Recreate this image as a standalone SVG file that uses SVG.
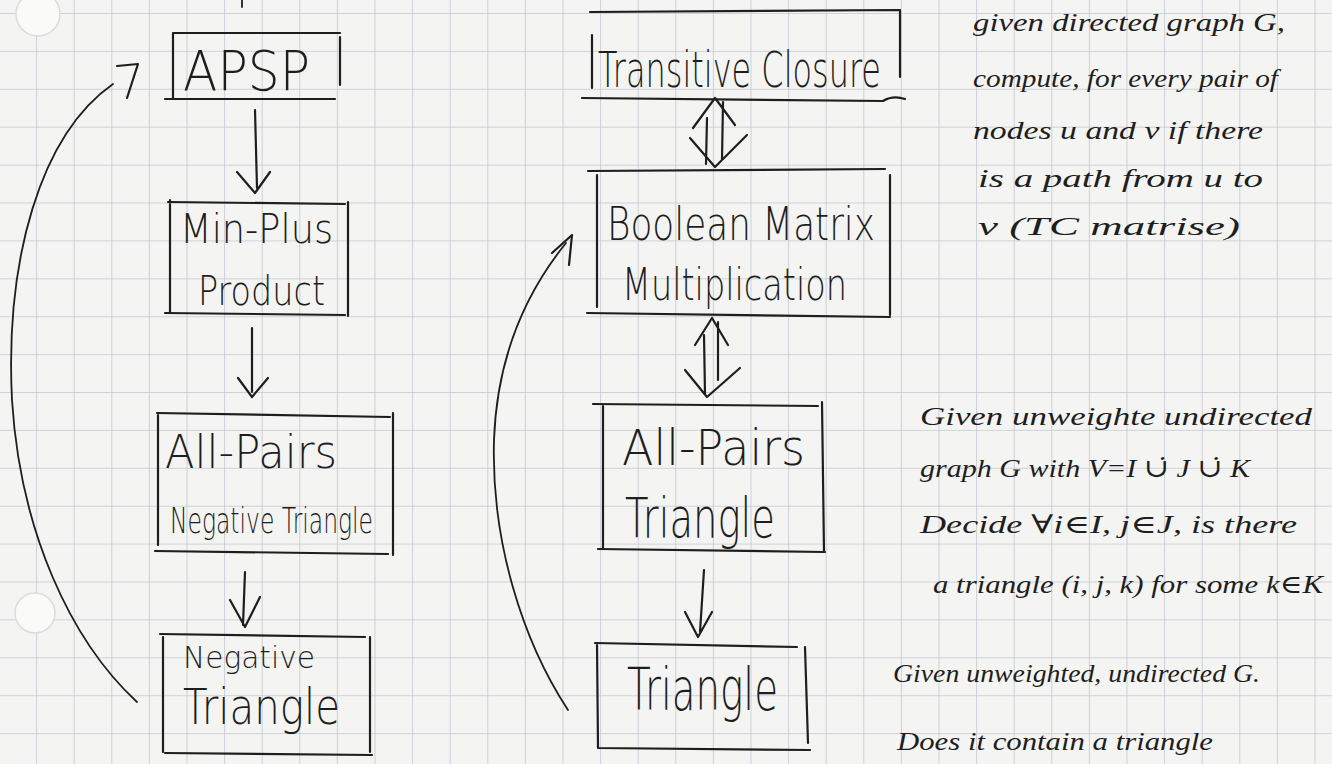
<svg xmlns="http://www.w3.org/2000/svg" width="1332" height="764" viewBox="0 0 1332 764">
<defs>
<pattern id="grid" x="-1.5" y="13" width="37.6" height="37.9" patternUnits="userSpaceOnUse">
<path d="M0,0 L37.6,0 M0,0 L0,37.9" fill="none" stroke="#c3c7d1" stroke-width="1.6"/>
</pattern>
<style>
.ink{fill:none;stroke:#1e1e1e;stroke-width:2.2;stroke-linecap:round;stroke-linejoin:round}
.thin{fill:none;stroke:#1e1e1e;stroke-width:1.8;stroke-linecap:round;stroke-linejoin:round}
.lbl{font-family:"DejaVu Sans","Liberation Sans",sans-serif;fill:#1e1e1e;font-weight:200}
.note{font-family:"Liberation Serif","DejaVu Serif",serif;font-style:italic;fill:#1e1e1e;font-size:26px}
</style>
</defs>
<rect width="1332" height="764" fill="#f4f4f2"/>
<rect width="1332" height="764" fill="url(#grid)"/>
<circle cx="38" cy="14" r="22" fill="#fafaf9" stroke="#dcdcdc" stroke-width="1.5"/>
<circle cx="35" cy="613" r="20" fill="#fafaf9" stroke="#dcdcdc" stroke-width="1.5"/>
<path class="thin" d="M242,0 L242,7"/>

<g id="node-apsp">
<path class="ink" d="M173,33 L340,33 M173,33 L173,98 M340,37 L340,85 M165,99 L335,99"/>
<text class="lbl" x="183" y="90" font-size="55" textLength="127" lengthAdjust="spacingAndGlyphs">APSP</text>
</g>
<g id="node-minplus">
<path class="ink" d="M168,202 L345,204 M170,200 L170,312 M348,202 L348,316 M165,313 L345,315"/>
<text class="lbl" x="180" y="243" font-size="40" textLength="153" lengthAdjust="spacingAndGlyphs">Min-Plus</text>
<text class="lbl" x="198" y="305" font-size="40" textLength="127" lengthAdjust="spacingAndGlyphs">Product</text>
</g>
<g id="node-apnt">
<path class="ink" d="M157,413 L390,417 M158,415 L158,545 M393,413 L393,555 M155,551 L388,554"/>
<text class="lbl" x="165" y="468" font-size="46" textLength="172" lengthAdjust="spacingAndGlyphs">All-Pairs</text>
<text class="lbl" x="170" y="533" font-size="35" textLength="203" lengthAdjust="spacingAndGlyphs">Negative Triangle</text>
</g>
<g id="node-nt">
<path class="ink" d="M160,634 L365,637 M163,637 L163,752 M370,637 L370,752 M165,753 L372,755"/>
<text class="lbl" x="183" y="668" font-size="30" textLength="132" lengthAdjust="spacingAndGlyphs">Negative</text>
<text class="lbl" x="183" y="724" font-size="50" textLength="157" lengthAdjust="spacingAndGlyphs">Triangle</text>
</g>
<g id="node-tc">
<path class="ink" d="M590,12 L900,10 M592,35 L592,88 M900,10 L900,77 M582,98 L883,101 Q893,95 905,99"/>
<text class="lbl" x="598" y="87" font-size="50" textLength="283" lengthAdjust="spacingAndGlyphs">Transitive Closure</text>
</g>
<g id="node-bmm">
<path class="ink" d="M588,171 L885,169 M597,175 L597,307 M890,175 L890,315 M587,313 L890,317"/>
<text class="lbl" x="607" y="240" font-size="46" textLength="268" lengthAdjust="spacingAndGlyphs">Boolean Matrix</text>
<text class="lbl" x="622" y="300" font-size="44" textLength="225" lengthAdjust="spacingAndGlyphs">Multiplication</text>
</g>
<g id="node-apt">
<path class="ink" d="M593,404 L818,406 M603,406 L603,548 M822,402 L824,552 M598,549 L825,552"/>
<text class="lbl" x="622" y="465" font-size="50" textLength="183" lengthAdjust="spacingAndGlyphs">All-Pairs</text>
<text class="lbl" x="625" y="537" font-size="55" textLength="150" lengthAdjust="spacingAndGlyphs">Triangle</text>
</g>
<g id="node-tri">
<path class="ink" d="M595,643 L797,647 M597,643 L598,748 M805,647 L808,743 M598,748 L810,750"/>
<text class="lbl" x="627" y="710" font-size="58" textLength="151" lengthAdjust="spacingAndGlyphs">Triangle</text>
</g>

<g id="connectors">
<path class="ink" d="M255,110 L257,188 M237,172 L255,193 L270,172"/>
<path class="ink" d="M252,328 L252,392 M238,378 L252,397 L268,378"/>
<path class="ink" d="M245,572 L243,625 M230,600 L245,627 L260,597"/>
<path class="ink" d="M723,102 L722,160 M693,128 L715,98 L735,125 M707,118 L706,164 M690,138 L715,167 L747,135"/>
<path class="ink" d="M718,322 L718,380 M695,345 L712,318 L728,345 M704,335 L705,394 M685,370 L707,397 L740,368"/>
<path class="ink" d="M704,570 L700,632 M685,612 L698,637 L712,612"/>
<path class="thin" d="M113,84 C40,135 5,260 12,400 C20,530 70,640 137,702"/>
<path class="ink" d="M117,66 L138,64 L127,98"/>
<path class="thin" d="M566,243 C528,290 497,355 494,440 C491,540 522,640 568,710"/>
<path class="ink" d="M552,253 L572,235 L569,265"/>
</g>

<g id="note-tc">
<text class="note" x="973" y="31" textLength="312" lengthAdjust="spacingAndGlyphs">given directed graph G,</text>
<text class="note" x="973" y="87" textLength="305" lengthAdjust="spacingAndGlyphs">compute, for every pair of</text>
<text class="note" x="973" y="139" textLength="290" lengthAdjust="spacingAndGlyphs">nodes u and v if there</text>
<text class="note" x="978" y="187" textLength="285" lengthAdjust="spacingAndGlyphs">is a path from u to</text>
<text class="note" x="978" y="235" textLength="262" lengthAdjust="spacingAndGlyphs">v  (TC matrise)</text>
</g>
<g id="note-apt">
<text class="note" x="920" y="425" textLength="392" lengthAdjust="spacingAndGlyphs">Given unweighte undirected</text>
<text class="note" x="920" y="477" textLength="330" lengthAdjust="spacingAndGlyphs">graph G with V=I ∪̇ J ∪̇ K</text>
<text class="note" x="920" y="533" textLength="377" lengthAdjust="spacingAndGlyphs">Decide ∀i∈I, j∈J, is there</text>
<text class="note" x="933" y="593" textLength="390" lengthAdjust="spacingAndGlyphs">a triangle (i, j, k) for some k∈K</text>
</g>
<g id="note-tri">
<text class="note" x="893" y="682" textLength="367" lengthAdjust="spacingAndGlyphs">Given unweighted, undirected G.</text>
<text class="note" x="897" y="750" textLength="316" lengthAdjust="spacingAndGlyphs">Does it contain a triangle</text>
</g>
</svg>
